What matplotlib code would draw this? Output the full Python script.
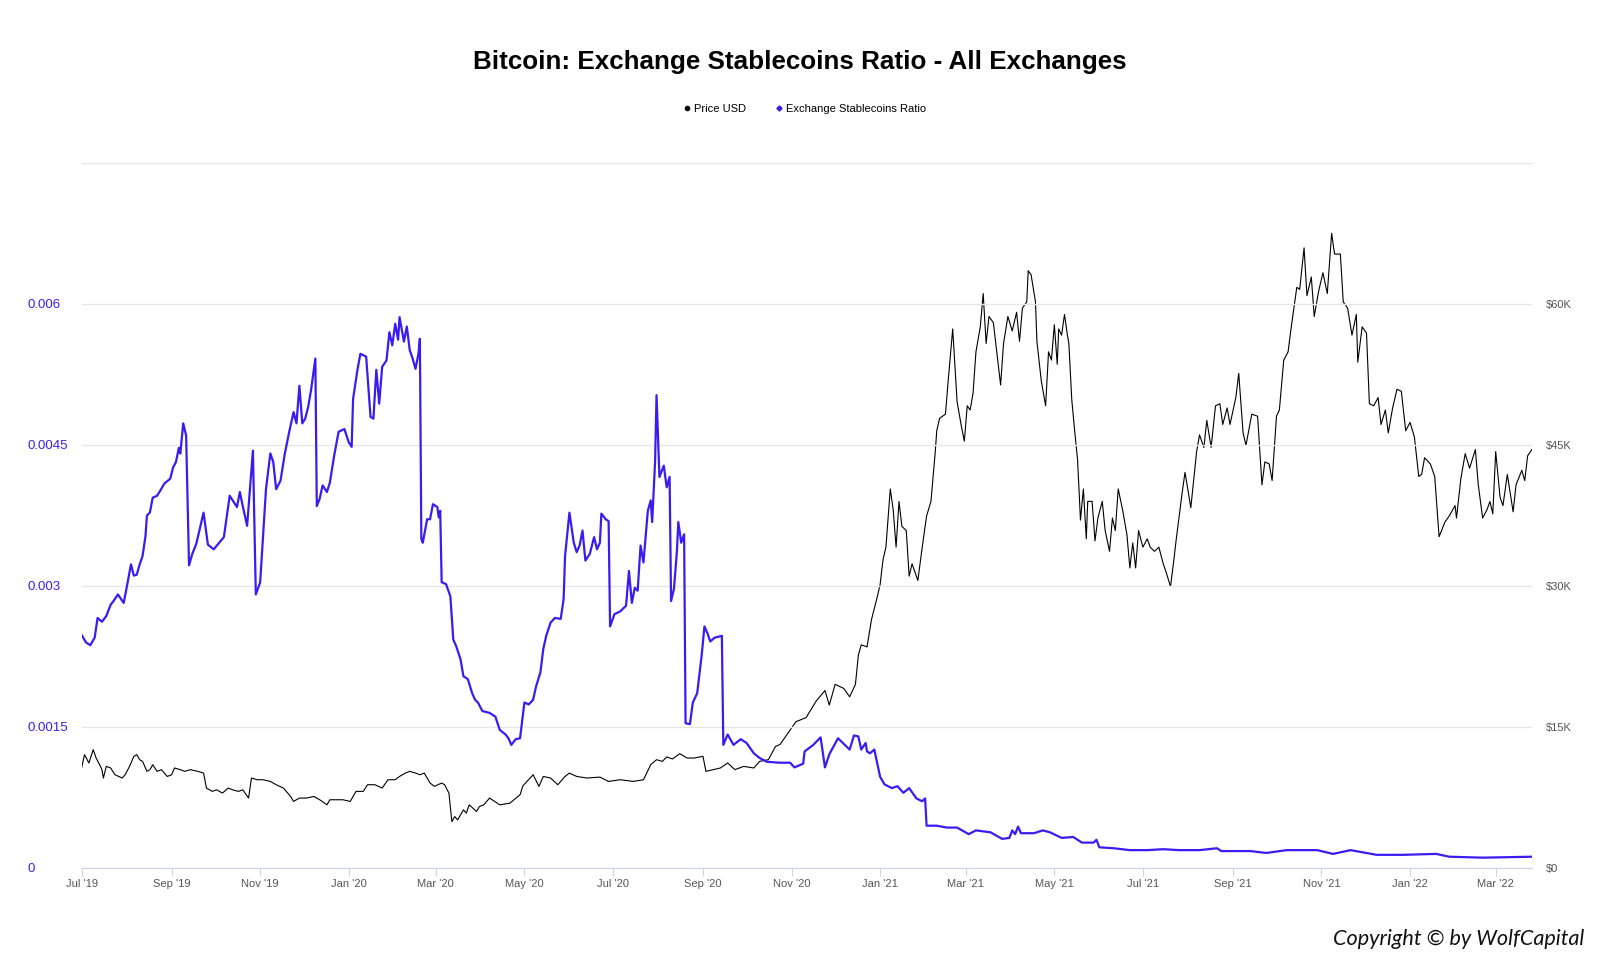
import matplotlib
matplotlib.use("Agg")
import matplotlib.pyplot as plt
import matplotlib.dates as mdates
from matplotlib.lines import Line2D
import pandas as pd

plt.rcParams['font.family'] = ['Liberation Sans', 'DejaVu Sans']

start_date = "2019-07-01"
end_day = 999

price_days = [0, 2, 5, 8, 10, 13, 14, 15, 17, 20, 23, 28, 30, 33, 36, 38, 40, 42, 45, 47, 49, 52, 55, 59, 62, 64, 68, 71, 75, 80,
              84, 86, 90, 93, 97, 101, 104, 108, 111, 115, 117, 121, 125, 130, 134, 139, 144, 146, 150, 155, 160, 164, 169, 171,
              176, 180, 185, 189, 194, 197, 202, 207, 211, 216, 219, 223, 226, 230, 233, 236, 240, 243, 248, 250, 253, 255, 257,
              259, 263, 265, 267, 272, 274, 277, 281, 288, 295, 302, 304, 311, 315, 318, 323, 328, 333, 336, 341, 348, 357, 363,
              371, 380, 387, 392, 396, 400, 403, 407, 412, 417, 422, 428, 430, 435, 440, 445, 450, 456, 463, 467, 473, 478,
              481, 492, 499, 506, 512, 515, 519, 525, 529, 533, 535, 537, 541, 544, 548, 550, 552, 554, 557, 559, 561, 563, 565,
              568, 570, 572, 576, 579, 582, 585, 588, 589, 591, 595, 597, 600, 603, 606, 608, 610, 612, 614, 616, 619, 621, 623,
              625, 628, 631, 633, 635, 638, 641, 644, 646, 648, 651, 652, 654, 657, 658, 661, 664, 666, 668, 670, 672, 673, 675,
              677, 679, 680, 682, 684, 686, 688, 690, 692, 693, 696, 698, 700, 703, 705, 708, 710, 712, 714, 717, 720, 722, 724,
              726, 728, 731, 734, 736, 739, 742, 745, 747, 750, 752, 754, 758, 760, 764, 768, 770, 773, 775, 778, 781, 784, 786,
              789, 791, 795, 797, 800, 802, 806, 810, 813, 815, 818, 820, 823, 825, 828, 831, 833, 837, 839, 842, 844, 847, 849,
              852, 855, 858, 861, 863, 867, 869, 872, 875, 878, 879, 882, 885, 887, 890, 893, 895, 898, 900, 903, 906, 909, 912,
              915, 918, 921, 923, 925, 929, 932, 935, 939, 942, 946, 947, 950, 953, 956, 960, 962, 965, 968, 970, 972, 974, 977,
              979, 982, 986, 988, 992, 994, 996, 999]
price_usd = [10640, 12060, 11170, 12590, 11700, 10810, 10460, 9570, 10810, 10640, 9920, 9570, 9920, 10810, 11880, 12060, 11520,
             11340, 10280, 10460, 10990, 10280, 10460, 9740, 9920, 10640, 10460, 10280, 10460, 10280,
             10100, 8500, 8150, 8320, 7970, 8500, 8320, 8150, 8320, 7440, 9570, 9390, 9390, 9210, 8860, 8500, 7610, 7080, 7440,
             7440, 7610, 7260, 6720, 7260, 7260, 7260, 7080, 8150, 8150, 8860, 8860, 8500, 9390, 9390, 9740, 10100, 10280, 10100,
             9920, 10100, 9040, 8680, 9040, 8860, 7970, 4940, 5470, 5120, 6190, 5840, 6720, 6010, 6540, 6720, 7440, 6720, 6900,
             7790, 8750, 9920, 8680, 9740, 9570, 8860, 9740, 10100, 9740, 9570, 9670, 9210, 9390, 9210, 9390, 10990, 11520, 11340,
             11810, 11600, 12160, 11700, 11700, 11880, 10280, 10460, 10640, 11170, 10460, 10810, 10640, 11340, 11520, 12940,
             13130, 15560, 16000, 17770, 18880, 17330, 19540, 19100, 18210, 19540, 22630, 23740, 23520, 26390, 28820, 30150,
             32810, 34130, 40320, 38110, 34130, 38990, 36340, 35900, 31040, 32360, 30590, 34130, 37450, 38990, 44300, 46510,
             47840, 48280, 52040, 57350, 49610, 46960, 45410, 49170, 48720, 50490, 54910, 57570, 61110, 55800, 58670, 58010,
             54030, 51380, 55800, 58670, 57130, 59120, 56020, 59560, 60220, 63540, 63100, 60220, 56020, 51820, 49170, 54910,
             54030, 57790, 53580, 57350, 56690, 58890, 56690, 55800, 49830, 46510, 43420, 37010, 40320, 35020, 39000, 39000,
             34800, 37230, 39000, 35900, 33690, 37230, 35900, 40320, 38110, 35460, 31920, 34580, 31920, 35900, 34130, 35020,
             34130, 33690, 34130, 32360, 31470, 29930, 32360, 35020, 39880, 42090, 38330, 44300, 46070, 44740, 47620, 44740,
             49170, 49390, 47180, 48940, 47180, 50050, 52620, 46290, 44960, 48280, 48060, 40760, 43200, 42980, 41210, 48060,
             48720, 54030, 54910, 57350, 61770, 61550, 65970, 60880, 62870, 58670, 61330, 63320, 61110, 67520, 65310, 65310,
             60220, 59560, 56690, 58890, 53810, 57570, 56910, 49390, 49170, 50050, 47180, 48720, 46290, 48940, 50930, 50710,
             46510, 47400, 45850, 41650, 41870, 43640, 42980, 41650, 35240, 36790, 37450, 38550, 37230, 41430, 44080, 42530,
             44520, 40760, 37230, 38110, 38990, 37670, 44300, 39440, 38550, 41870, 37890, 40760, 42310, 41210, 43860, 44520]

ratio_days = [0, 3, 6, 9, 11, 14, 17, 20, 22, 25, 29, 31, 34, 36, 38, 40, 42, 44, 45, 47, 49, 52, 54, 57, 61, 63, 65, 67, 68, 70,
              72, 74, 76, 79, 84, 87, 91, 98, 102, 107, 109, 111, 114, 118, 120, 123, 127, 130, 132, 134, 137, 140, 143, 146,
              148, 150, 152, 154, 156, 158, 161, 162, 164, 166, 169, 171, 174, 177, 181, 184, 186, 187, 190, 192, 196, 199, 201,
              203, 205, 207, 210, 212, 214, 216, 218, 219, 222, 224, 226, 228, 230, 232, 233, 234, 235, 238, 240, 242, 245, 246,
              247, 248, 251, 254, 256, 258, 261, 263, 266, 269, 271, 273, 276, 281, 285, 288, 292, 294, 296, 299, 302, 305, 308,
              311, 313, 316, 318, 320, 323, 326, 330, 332, 333, 336, 339, 341, 343, 345, 347, 350, 353, 355, 357, 358, 361, 363,
              364, 367, 371, 375, 377, 379, 381, 383, 385, 387, 389, 390, 392, 393, 395, 396, 398, 401, 403, 405, 406, 408, 410,
              411, 413, 415, 416, 419, 421, 424, 427, 429, 431, 433, 436, 441, 442, 445, 449, 454, 458, 463, 467, 472, 481, 488,
              491, 497, 498, 504, 509, 512, 515, 521, 527, 529, 532, 535, 537, 540, 541, 543, 546, 550, 553, 558, 562, 566, 570,
              575, 579, 581, 582, 589, 596, 603, 611, 616, 626, 634, 639, 641, 643, 645, 647, 656, 662, 667, 675, 683, 689, 697,
              699, 701, 711, 722, 734, 745, 756, 770, 782, 785, 805, 816, 830, 851, 862, 874, 892, 910, 933, 942, 965, 999]
stablecoin_ratio = [0.00248, 0.0024, 0.00237, 0.00245, 0.00266, 0.00262, 0.00268, 0.0028, 0.00284, 0.00291, 0.00282, 0.00298,
                    0.00323, 0.00311, 0.00312, 0.00323, 0.00332, 0.00353, 0.00375, 0.00378, 0.00394, 0.00396, 0.00401, 0.00409,
                    0.00414, 0.00426, 0.00432, 0.00447, 0.00441, 0.00473, 0.0046, 0.00322, 0.00333, 0.00345, 0.00378, 0.00344,
                    0.00339, 0.00352, 0.00396, 0.00384, 0.004, 0.00385, 0.00364, 0.00444, 0.00291, 0.00304, 0.00403, 0.00441,
                    0.00432, 0.00403, 0.00412, 0.00441, 0.00464, 0.00485, 0.00473, 0.00513, 0.00473, 0.00478, 0.0049, 0.00508,
                    0.00542, 0.00385, 0.00393, 0.00407, 0.004, 0.0041, 0.00439, 0.00464, 0.00467, 0.00453, 0.00448, 0.00499,
                    0.0053, 0.00547, 0.00544, 0.0048, 0.00478, 0.0053, 0.00494, 0.00533, 0.0054, 0.0057, 0.00556, 0.00579,
                    0.00562, 0.00586, 0.0056, 0.00576, 0.00551, 0.00542, 0.00531, 0.00547, 0.00563, 0.0035, 0.00346, 0.00371,
                    0.00371, 0.00387, 0.00384, 0.00373, 0.0038, 0.00304, 0.00302, 0.00289, 0.00243, 0.00236, 0.00222, 0.00204,
                    0.00201, 0.00186, 0.00179, 0.00176, 0.00167, 0.00165, 0.00161, 0.00147, 0.00142, 0.00138, 0.00131, 0.00137,
                    0.00138, 0.00176, 0.00174, 0.00179, 0.00193, 0.00208, 0.00233, 0.00247, 0.00261, 0.00266, 0.00265, 0.00286,
                    0.00332, 0.00378, 0.00346, 0.00336, 0.00343, 0.00359, 0.00327, 0.00334, 0.00352, 0.00339, 0.00346, 0.00377,
                    0.00371, 0.00369, 0.00257, 0.0027, 0.00273, 0.00279, 0.00316, 0.00282, 0.00298, 0.00295, 0.00343, 0.00325,
                    0.00361, 0.0038, 0.00391, 0.00368, 0.00432, 0.00503, 0.00416, 0.00428, 0.00405, 0.00416, 0.00284, 0.00297,
                    0.00336, 0.00368, 0.00346, 0.00355, 0.00154, 0.00153, 0.00176, 0.00186, 0.00225, 0.00257, 0.0025, 0.00241,
                    0.00245, 0.00247, 0.00131, 0.00142, 0.00131, 0.00137, 0.00133, 0.00122, 0.00117, 0.00113, 0.00112, 0.00112,
                    0.00107, 0.00111, 0.00124, 0.00131, 0.00139, 0.00107, 0.00121, 0.00138, 0.00129, 0.00126, 0.00141, 0.0014,
                    0.00126, 0.00133, 0.00124, 0.00122, 0.00126, 0.00097, 0.00089, 0.00085, 0.00087, 0.0008, 0.00085, 0.00074,
                    0.00071, 0.00074, 0.00045, 0.00045, 0.00043, 0.00043, 0.00036, 0.0004, 0.00038, 0.00031, 0.00032, 0.0004,
                    0.00036, 0.00044, 0.00037, 0.00037, 0.0004, 0.00038, 0.00032, 0.00033, 0.00027, 0.00027, 0.0003, 0.00022,
                    0.00021, 0.00019, 0.00019, 0.0002, 0.00019, 0.00019, 0.00021, 0.00018, 0.00018, 0.00016, 0.00019, 0.00019,
                    0.00015, 0.00019, 0.00014, 0.00014, 0.00015, 0.00012, 0.00011, 0.00012]

ratio_ticks = [0, 0.0015, 0.003, 0.0045, 0.006, 0.0075]
ratio_labels = ["0", "0.0015", "0.003", "0.0045", "0.006", ""]
price_ticks = [0, 15000, 30000, 45000, 60000, 75000]
price_labels = ["$0", "$15K", "$30K", "$45K", "$60K", ""]

blue = "#3a1cf2"
grid_c = "#e6e6e6"
label_c = "#555555"

t0 = pd.Timestamp(start_date)
price_dates = t0 + pd.to_timedelta(price_days, unit="D")
ratio_dates = t0 + pd.to_timedelta(ratio_days, unit="D")

fig = plt.figure(figsize=(16, 9.57), dpi=100)
ax = fig.add_axes([0.051, 0.093, 0.9065, 0.7367])
ax2 = ax.twinx()

ax2.plot(price_dates, price_usd, color="black", lw=0.8)
ax.plot(ratio_dates, stablecoin_ratio, color=blue, lw=1.6)

# ratio drawn over price
ax.set_zorder(ax2.get_zorder() + 1)
ax.patch.set_visible(False)

ax.set_xlim(t0, t0 + pd.Timedelta(days=end_day))
ax.set_ylim(0, 0.0075)
ax2.set_ylim(0, 75000)

ax.set_yticks(ratio_ticks)
ax.set_yticklabels(ratio_labels)
ax2.set_yticks(price_ticks)
ax2.set_yticklabels(price_labels)
ax.grid(axis="y", color=grid_c, lw=1)
ax.set_axisbelow(True)

for a in (ax, ax2):
    for s in a.spines.values():
        s.set_visible(False)
ax.spines["bottom"].set_visible(True)
ax.spines["bottom"].set_color("#ccd6eb")

ax.tick_params(axis="y", length=0, pad=39, labelsize=9.5, labelcolor=blue)
for lab in ax.get_yticklabels():
    lab.set_horizontalalignment("left")
ax2.tick_params(axis="y", length=0, pad=10, labelsize=8, labelcolor=label_c)

ax.xaxis.set_major_locator(mdates.MonthLocator(bymonth=[1, 3, 5, 7, 9, 11]))
ax.xaxis.set_major_formatter(mdates.DateFormatter("%b '%y"))
ax.tick_params(axis="x", length=6, color="#ccd6eb", labelsize=8, labelcolor=label_c, pad=2)

fig.text(0.5, 0.935, "Bitcoin: Exchange Stablecoins Ratio - All Exchanges",
         ha="center", va="center", fontsize=18.7, fontweight="bold")

handles = [Line2D([], [], color="black", marker="o", ms=3, ls="none"),
           Line2D([], [], color=blue, marker="D", ms=2.6, ls="none")]
fig.legend(handles, ["Price USD", "Exchange Stablecoins Ratio"], loc="center",
           bbox_to_anchor=(0.5025, 0.886), ncol=2, frameon=False, fontsize=8,
           handletextpad=0.1, columnspacing=2.5, handlelength=1)

fig.text(0.99, 0.008, "Copyright \u00a9 by WolfCapital", ha="right", va="bottom",
         fontsize=15.6, fontstyle="italic", color="#111111", family=["Lato", "DejaVu Sans"])

fig.savefig("out.png", dpi=100)
